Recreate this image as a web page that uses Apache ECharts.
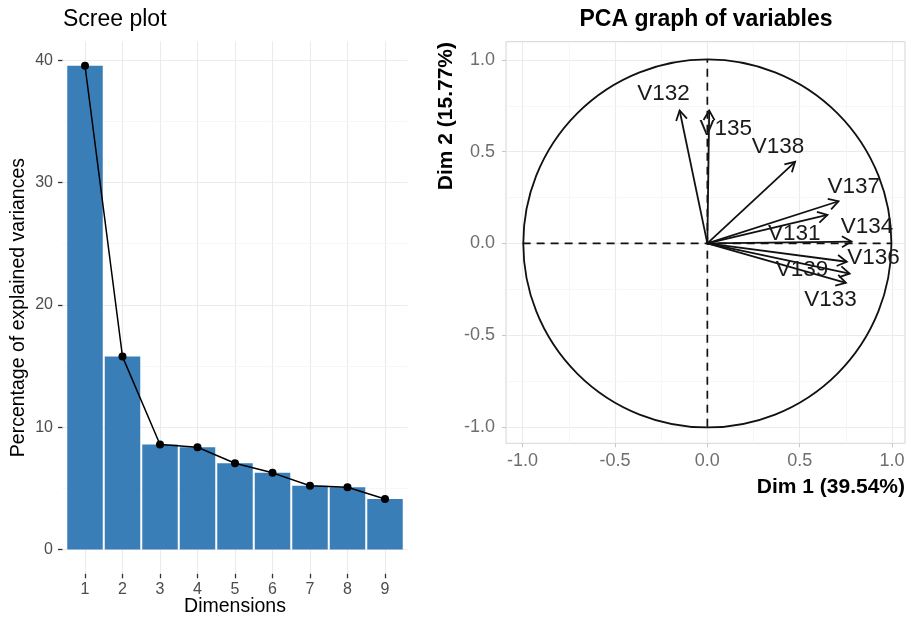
<!DOCTYPE html>
<html>
<head>
<meta charset="utf-8">
<script src="https://cdn.jsdelivr.net/npm/echarts@6/dist/echarts.min.js"></script>
<style>
  html, body { margin: 0; background: #fff; }
  #chart { width: 912px; height: 623px; }
</style>
</head>
<body>
<div id="chart"></div>
<script>
// scree plot data
const dims = [1, 2, 3, 4, 5, 6, 7, 8, 9]
const variances = [39.54, 15.77, 8.58, 8.36, 7.05, 6.27, 5.21, 5.09, 4.13]
const screeTicks = [0, 10, 20, 30, 40]
const screeMinor = [5, 15, 25, 35]

// variable coordinates on Dim 1 / Dim 2
const varNames = ['V131', 'V132', 'V133', 'V134', 'V135', 'V136', 'V137', 'V138', 'V139']
const dim1 = [0.65, -0.15, 0.75, 0.78, 0.01, 0.755, 0.71, 0.475, 0.77]
const dim2 = [0.155, 0.725, -0.215, 0.01, 0.725, -0.10, 0.23, 0.445, -0.165]
// where the labels sit (repelled)
const labelDim1 = [0.47, -0.237, 0.667, 0.864, 0.10, 0.90, 0.793, 0.382, 0.513]
const labelDim2 = [0.055, 0.815, -0.307, 0.09, 0.624, -0.079, 0.307, 0.525, -0.142]
const pcaTicks = [-1, -0.5, 0, 0.5, 1]
const pcaMinor = [-0.75, -0.25, 0.25, 0.75]

const FONT = '"Liberation Sans", Arial, sans-serif'
const chart = echarts.init(document.getElementById('chart'))

const minorLine = (data, color) => ({
  silent: true,
  z: 1,
  symbol: 'none',
  label: { show: false },
  emphasis: { disabled: true },
  animation: false,
  lineStyle: { color: color, width: 0.7, type: 'solid' },
  data: data
})

// axis line kept but invisible so the ticks stay on the panel edge
const hiddenLine = { show: true, onZero: false, lineStyle: { opacity: 0 } }

const options = {
  animation: false,
  backgroundColor: '#fff',
  textStyle: { fontFamily: FONT },
  grid: [
    { left: 62.5, top: 41.5, width: 345, height: 532.3 },
    { left: 506, top: 41.7, width: 399, height: 401.6, show: true, borderColor: '#d4d4d4', borderWidth: 1 }
  ],
  xAxis: [
    {
      gridIndex: 0, type: 'value', min: 0.4, max: 9.6,
      axisLine: hiddenLine,
      axisTick: { show: true, customValues: dims, length: 4.5, lineStyle: { color: '#333', width: 1.3 } },
      axisLabel: { customValues: dims, margin: 8, color: '#4d4d4d', fontSize: 16, fontFamily: FONT },
      splitLine: { show: true, lineStyle: { color: '#ebebeb', width: 1.1 } }
    },
    {
      gridIndex: 1, type: 'value', min: -1.09, max: 1.07,
      axisLine: hiddenLine,
      axisTick: { show: true, customValues: pcaTicks, length: 4, lineStyle: { color: '#c8c8c8', width: 1 } },
      axisLabel: { customValues: pcaTicks, margin: 9, color: '#6e6e6e', fontSize: 18, fontFamily: FONT,
        formatter: v => v.toFixed(1) },
      splitLine: { show: true, lineStyle: { color: '#ebebeb', width: 1.1 } }
    }
  ],
  yAxis: [
    {
      gridIndex: 0, type: 'value', min: -1.98, max: 41.52,
      axisLine: hiddenLine,
      axisTick: { show: true, customValues: screeTicks, length: 4.5, lineStyle: { color: '#333', width: 1.3 } },
      axisLabel: { customValues: screeTicks, margin: 9.5, color: '#4d4d4d', fontSize: 16, fontFamily: FONT },
      splitLine: { show: true, lineStyle: { color: '#ebebeb', width: 1.1 } }
    },
    {
      gridIndex: 1, type: 'value', min: -1.09, max: 1.10,
      axisLine: hiddenLine,
      axisTick: { show: true, customValues: pcaTicks, length: 4, lineStyle: { color: '#c8c8c8', width: 1 } },
      axisLabel: { customValues: pcaTicks, margin: 11, color: '#6e6e6e', fontSize: 18, fontFamily: FONT,
        formatter: v => v.toFixed(1) },
      splitLine: { show: true, lineStyle: { color: '#ebebeb', width: 1.1 } }
    }
  ],
  graphic: [
    { type: 'text', x: 63, y: 20, style: { text: 'Scree plot', font: '23px ' + FONT, fill: '#000', align: 'left', verticalAlign: 'middle' } },
    { type: 'text', x: 235, y: 607, style: { text: 'Dimensions', font: '19.5px ' + FONT, fill: '#000', align: 'center', verticalAlign: 'middle' } },
    { type: 'text', x: 19, y: 307.6, rotation: Math.PI / 2, style: { text: 'Percentage of explained variances', font: '19.5px ' + FONT, fill: '#000', align: 'center', verticalAlign: 'middle' } },
    { type: 'text', x: 706, y: 20, style: { text: 'PCA graph of variables', font: 'bold 23px ' + FONT, fill: '#000', align: 'center', verticalAlign: 'middle' } },
    { type: 'text', x: 905, y: 487, style: { text: 'Dim 1 (39.54%)', font: 'bold 21px ' + FONT, fill: '#000', align: 'right', verticalAlign: 'middle' } },
    { type: 'text', x: 446, y: 42, rotation: Math.PI / 2, style: { text: 'Dim 2 (15.77%)', font: 'bold 21px ' + FONT, fill: '#000', align: 'right', verticalAlign: 'middle' } }
  ],
  series: [
    // minor grid, left panel
    {
      type: 'line', xAxisIndex: 0, yAxisIndex: 0, z: 1,
      data: [[1, 0]], symbol: 'none', lineStyle: { opacity: 0 },
      markLine: minorLine(screeMinor.map(v => ({ yAxis: v })), '#f3f3f3')
    },
    {
      type: 'bar', xAxisIndex: 0, yAxisIndex: 0, z: 2,
      data: dims.map((d, i) => [d, variances[i]]),
      barWidth: 35.5,
      itemStyle: { color: '#3a7eb8' }
    },
    {
      type: 'line', xAxisIndex: 0, yAxisIndex: 0, z: 3,
      data: dims.map((d, i) => [d, variances[i]]),
      symbol: 'circle', symbolSize: 8,
      itemStyle: { color: '#000' },
      lineStyle: { color: '#000', width: 1.5 }
    },
    // minor grid, right panel
    {
      type: 'line', xAxisIndex: 1, yAxisIndex: 1, z: 1,
      data: [[0, 0]], symbol: 'none', lineStyle: { opacity: 0 },
      markLine: minorLine(pcaMinor.map(v => ({ xAxis: v })).concat(pcaMinor.map(v => ({ yAxis: v }))), '#f3f3f3')
    },
    // correlation circle
    {
      type: 'custom', xAxisIndex: 1, yAxisIndex: 1, z: 2,
      data: [[0, 0, 1]],
      renderItem: (params, api) => {
        const c = api.coord([api.value(0), api.value(1)])
        const s = api.size([api.value(2), api.value(2)])
        return {
          type: 'circle',
          shape: { cx: c[0], cy: c[1], r: (s[0] + s[1]) / 2 },
          style: { fill: 'none', stroke: '#111', lineWidth: 1.8 }
        }
      }
    },
    // dashed axes
    {
      type: 'line', xAxisIndex: 1, yAxisIndex: 1, z: 3,
      data: [[-1, 0], [1, 0]], symbol: 'none',
      lineStyle: { color: '#111', width: 1.7, type: [8, 6] }
    },
    {
      type: 'line', xAxisIndex: 1, yAxisIndex: 1, z: 3,
      data: [[0, -1], [0, 1]], symbol: 'none',
      lineStyle: { color: '#111', width: 1.7, type: [8, 6] }
    },
    // arrows
    {
      type: 'custom', xAxisIndex: 1, yAxisIndex: 1, z: 4,
      data: dim1.map((x, i) => [x, dim2[i]]),
      renderItem: (params, api) => {
        const o = api.coord([0, 0])
        const t = api.coord([api.value(0), api.value(1)])
        const ang = Math.atan2(t[1] - o[1], t[0] - o[0])
        const L = 11, a = Math.PI / 6
        const b1 = [t[0] - L * Math.cos(ang - a), t[1] - L * Math.sin(ang - a)]
        const b2 = [t[0] - L * Math.cos(ang + a), t[1] - L * Math.sin(ang + a)]
        const st = { stroke: '#111', lineWidth: 1.8, fill: 'none' }
        return {
          type: 'group',
          children: [
            { type: 'line', shape: { x1: o[0], y1: o[1], x2: t[0], y2: t[1] }, style: st },
            { type: 'polyline', shape: { points: [b1, t, b2] }, style: st }
          ]
        }
      }
    },
    // labels
    {
      type: 'custom', xAxisIndex: 1, yAxisIndex: 1, z: 5,
      data: labelDim1.map((x, i) => [x, labelDim2[i]]),
      renderItem: (params, api) => {
        const p = api.coord([api.value(0), api.value(1)])
        return {
          type: 'text', x: p[0], y: p[1],
          style: { text: varNames[params.dataIndex], font: '22.5px ' + FONT, fill: '#1a1a1a', align: 'center', verticalAlign: 'middle' }
        }
      }
    }
  ]
}
chart.setOption(options)
</script>
</body>
</html>
